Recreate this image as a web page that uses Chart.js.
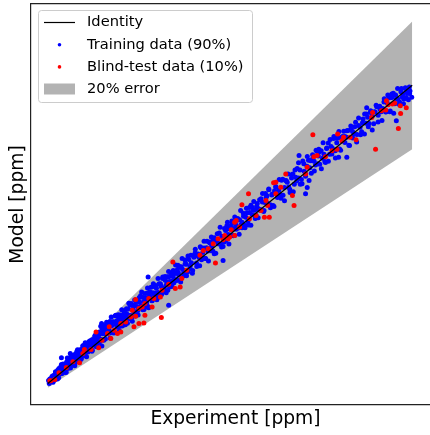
<!DOCTYPE html>
<html>
<head>
<meta charset="utf-8">
<script src="https://cdn.jsdelivr.net/npm/chart.js@4.4.1/dist/chart.umd.min.js"></script>
<style>
  html, body { margin: 0; padding: 0; background: #fff; overflow: hidden; }
  #wrap { width: 444px; height: 435px; }
</style>
</head>
<body>
<div id="wrap"><canvas id="parityChart" width="444" height="435"></canvas></div>
<script>
// experiment vs model, both in ppm
const identityRange = [26.25, 400];
const errorFraction = 0.2;

const trainingPoints = [
  [27.0,30],[27.7,26.2],[28.3,32],[29.0,31],[29.6,29.5],[30.3,34.5],[31.0,35.8],[31.6,28],[32.3,35],[32.9,37],
  [33.6,34.2],[34.3,40],[34.9,32.7],[35.6,39.7],[36.2,31.9],[36.9,42.4],[37.6,45.2],[38.2,39.5],[38.9,42.3],[39.5,38.7],
  [40.2,50.2],[40.9,39],[41.5,44.5],[42.2,49.4],[42.8,47.9],[43.5,44.4],[44.2,40.2],[44.8,50.6],[45.5,53.4],[46.1,45.6],
  [46.8,50.5],[47.5,56.8],[48.1,49.7],[48.8,55.3],[49.4,48.2],[50.1,61.5],[50.8,53.8],[51.4,51.6],[52.1,57.2],[52.7,61.3],
  [53.4,56.6],[54.1,51.7],[54.7,63.5],[55.4,61],[56.0,57.6],[56.7,68.7],[57.4,64.6],[58.0,57.2],[58.7,68.3],[59.3,61.7],
  [60.0,64.8],[60.7,57.5],[61.3,69.3],[62.0,73.2],[62.6,63.4],[63.3,69.7],[64.0,68],[64.6,77.4],[65.3,65.3],[65.9,71.5],
  [66.6,75.4],[67.3,65.7],[67.9,75.1],[68.6,71.8],[69.2,79.6],[69.9,71.5],[70.6,75.4],[71.2,80.8],[71.9,67.9],[72.5,80.5],
  [73.2,78.8],[73.9,76.3],[74.5,85.7],[75.2,75.2],[75.8,82.2],[76.5,80.5],[77.2,76.4],[77.8,86.6],[78.5,90.5],[79.1,82.3],
  [80.0,89],[80.9,81.9],[81.8,94.8],[82.7,88.7],[83.6,80.6],[84.5,92.5],[85.4,97.4],[86.3,88.3],[87.2,97.2],[88.1,91.1],
  [89.0,94],[89.9,103.9],[90.8,89.8],[91.7,98.7],[92.6,103.6],[93.5,89.5],[94.4,103.4],[95.3,111.3],[96.2,100.2],[97.1,105.1],
  [98.0,101],[98.9,108.9],[99.8,97.8],[100.7,105.7],[101.6,109.6],[102.5,98.5],[103.4,104.4],[104.3,117.3],[105.2,109.2],[106.1,105.1],
  [107.0,114],[107.9,101.9],[108.8,119.8],[109.7,111.7],[110.6,124.6],[111.5,111.5],[112.4,109.4],[113.3,119.3],[114.2,117.2],[115.1,124.1],
  [116.0,111],[116.9,128.9],[117.8,122.8],[118.7,117.7],[119.6,121.6],[120.5,128.5],[121.4,136.4],[122.3,123.3],[123.2,121.2],[124.1,134.1],
  [125.0,129],[125.9,121.9],[126.8,133.8],[127.7,127.7],[128.6,139.6],[129.5,122.5],[130.4,135.4],[131.3,140.3],[132.2,134.2],[133.1,130.1],
  [134.0,140],[134.9,147.9],[135.8,134.8],[136.7,139.7],[137.6,145.6],[138.5,133.5],[139.4,140.4],[140.3,151.3],[141.2,139.2],[142.1,149.1],
  [143.0,147],[143.9,157.9],[144.8,144.8],[145.7,141.7],[146.6,155.6],[147.5,149.5],[148.4,153.4],[149.3,143.3],[150.2,160.2],[151.1,154.1],
  [152.0,151],[152.9,164.9],[153.8,154.8],[154.7,160.7],[155.6,152.6],[156.5,164.5],[157.4,164.4],[158.3,156.3],[159.2,169.2],[160.1,165.1],
  [160.5,162.4],[161.8,156],[163.1,172.7],[164.4,169.6],[165.7,165.4],[167.0,181],[168.3,175.7],[169.6,166],[170.9,181.6],[172.2,173],
  [173.5,177.6],[174.8,167.9],[176.1,184.6],[177.4,190.3],[178.7,177.3],[180.0,186.3],[181.3,184.3],[182.6,197.7],[183.9,181.4],[185.2,190.4],
  [186.5,196.1],[187.8,183.1],[189.1,196.5],[190.4,192.3],[191.7,203.5],[193.0,192.7],[194.3,198.4],[195.6,206.3],[196.9,188.9],[198.2,206.7],
  [199.5,204.7],[200.8,201.6],[202.1,215],[203.4,200.9],[204.7,211],[206.0,209],[207.3,203.7],[208.6,218.2],[209.9,223.9],[211.2,213.1],
  [212.5,219.9],[213.8,212.4],[215.1,226.9],[216.4,220.5],[217.7,211.9],[219.0,225.3],[220.3,231],[221.6,221.3],[222.9,231.4],[224.2,225],
  [225.5,228.5],[226.8,239.7],[228.1,224.5],[229.4,234.6],[230.7,240.3],[232.0,225.1],[233.3,240.7],[234.6,249.7],[235.9,237.8],[237.2,243.5],
  [238.5,243.7],[239.8,237.3],[241.1,251.8],[242.4,245.4],[243.7,243.4],[245.0,257.9],[246.3,253.7],[247.6,241.8],[248.9,253],[250.2,259.8],
  [251.5,252.1],[253.0,269.2],[254.4,250.2],[255.9,262.5],[257.3,249.5],[258.8,267.8],[260.2,272.8],[261.7,263.5],[263.1,268.5],[264.6,262.8],
  [266.0,281],[267.5,262.1],[268.9,271.9],[270.4,280.6],[271.8,278.4],[273.3,272.7],[274.7,265.7],[276.2,284],[277.6,289],[279.1,276.1],
  [280.5,284.7],[282.0,295.8],[283.4,284],[284.9,293.9],[286.3,282.1],[287.8,305.2],[289.2,292.2],[290.7,288.9],[292.1,298.7],[293.6,306.2],
  [295.0,296.8],[296.5,289.9],[297.9,308.1],[299.4,304.8],[300.8,300.2],[302.3,317.3],[303.7,311.5],[305.2,301],[306.6,318],[308.1,308.7],
  [309.5,313.7],[311.0,303.2],[312.4,321.4],[313.9,327.7],[315.3,313.5],[316.8,323.4],[318.2,321.2],[319.7,335.9],[321.1,318.1],[322.6,328],
  [324.0,334.2],[325.5,320.1],[326.9,334.7],[328.4,330.2],[329.8,342.4],
  [331.0,328.4],[332.6,334.8],[334.1,343.5],[335.7,324.7],[337.2,344.2],[338.8,342.2],[340.3,338.9],[341.9,353.7],[343.4,338.4],[345.0,349.6],
  [346.5,347.5],[348.1,341.9],[349.6,357.8],[351.2,364.2],[352.7,352.5],[354.3,360.1],[355.8,352],[357.4,368],[358.9,361.1],[360.5,351.9],
  [362.0,366.6],[363.6,373],[365.1,362.5],[366.7,373.7],[368.2,366.8],[369.8,370.8],[371.3,383.1],[372.9,366.7],[374.4,377.8],[376.0,384.2],
  [377.5,367.7],[379.1,384.9],[380.6,390],[382.2,377],[383.7,383],[385.3,383],[386.8,376],[388.4,392],[389.9,385],[391.5,383],
  [393.0,397],[394.6,393],[396.1,382],[397.7,393],[399.5,385],
  [390.5,389],[397.3,389.8],[393.9,384.8],[378.6,384.8],
  [40.2,58.5],[49.3,64],[81.4,101.5],[129.1,159.7],[150.2,124.4],[206,180.6],[283.9,311.9],[290.6,264],[292.3,272],
  [353.3,372],[383.7,355.6],[304.2,320],[332.9,309.8],[324.5,309.8],
  // outer part of the cloud
  [33.0,30.6],[34.1,41.2],[35.2,35],[36.3,43],[37.4,33.6],[38.5,44.2],[39.6,47.6],[40.7,39.7],[41.8,50.7],[42.9,44.1],
  [44.0,50.6],[45.1,40.3],[46.2,58.2],[47.3,45.5],[48.4,54.4],[49.5,45.9],[50.6,60.8],[51.7,51.1],[52.8,61.8],[53.9,48.5],
  [55.0,62.2],[56.1,66.9],[57.2,54.2],[58.3,63.7],[59.4,55.2],[60.5,68.9],[61.6,61.6],[62.7,74.1],[63.8,61.4],[64.9,74.5],
  [66.0,60],[67.1,73.7],[68.2,78.4],[69.3,68.1],[70.4,78.2],[71.5,66.7],[72.6,81.6],[73.7,74.3],[74.8,86.8],[75.9,72.3],
  [77.0,72.8],[78.1,86.5],[79.2,78],
  [80.5,98.1],[81.7,73.2],[82.9,93.3],[84.1,99],[85.3,82.2],[86.5,103.2],[87.7,89.1],[88.9,101.1],[90.1,83.4],[91.3,109.8],
  [92.5,90.3],[93.7,103.2],[94.9,90],[96.1,111.9],[97.3,96.9],[98.5,112.5],[99.7,92.1],[100.9,112.2],[102.1,118.8],[103.3,99.3],
  [104.5,113.1],[105.7,99.9],[106.9,120],[108.1,108.6],[109.3,126.9],[110.5,107.4],[111.7,126.6],[112.9,104.4],[114.1,124.5],[115.3,131.1],
  [116.5,115.2],[117.7,129.9],[118.9,112.2],[120.1,134.1],[121.3,122.7],[122.5,141],[123.7,118.8],[124.9,119.1],[126.1,139.2],[127.3,126],
  [128.5,146.1],[129.7,121.2],[130.9,141.3],[132.1,147],[133.3,130.2],[134.5,151.2],[135.7,137.1],[136.9,149.1],[138.1,131.4],[139.3,157.8],
  [140.5,138.3],[141.7,151.2],[142.9,138],[144.1,159.9],[145.3,144.9],[146.5,160.5],[147.7,140.1],[148.9,160.2],[150.1,166.8],[151.3,147.3],
  [152.5,161.1],[153.7,147.9],[154.9,168],[156.1,156.6],[157.3,174.9],[158.5,155.4],[159.7,174.6],
  [161.0,173],[162.5,153.5],[164.0,183],[165.5,161.5],[167.0,176],[168.5,161.5],[170.0,186],[171.5,169.5],[173.0,187],[174.5,164.5],
  [176.0,187],[177.5,194.5],[179.0,173],[180.5,188.5],[182.0,174],[183.5,196.5],[185.0,184],[186.5,204.5],[188.0,183],[189.5,204.5],
  [191.0,180],[192.5,202.5],[194.0,210],[195.5,192.5],[197.0,209],[198.5,189.5],[200.0,214],[201.5,201.5],[203.0,222],[204.5,197.5],
  [206.0,198],[207.5,220.5],[209.0,206],[210.5,228.5],[212.0,201],[213.5,223.5],[215.0,230],[216.5,211.5],[218.0,235],[219.5,219.5],
  [221.0,233],[222.5,213.5],[224.0,243],[225.5,221.5],[227.0,236],[228.5,221.5],[230.0,246],[231.5,229.5],[233.0,247],[234.5,224.5],
  [236.0,247],[237.5,254.5],[239.0,233],[240.5,248.5],[242.0,234],[243.5,256.5],[245.0,244],[246.5,264.5],[248.0,243],[249.5,264.5],
  [251.0,261.7],[252.8,270.1],[254.6,246.6],[256.4,263.8],[258.2,248],[260.0,272.9],[261.8,259.3],[263.6,282],[265.4,258.5],[267.2,282.3],
  [269.0,255.5],[270.8,280.4],[272.6,288.8],[274.4,269.7],[276.2,288],[278.0,266.7],[279.8,293.8],[281.6,280.2],[283.4,302.9],[285.2,276.1],
  [287.0,276.8],[288.8,301.7],[290.6,285.9],[292.4,310.8],[294.2,280.7],[296.0,305.6],[297.8,312.9],[299.6,292.7],[301.4,318.7],[303.2,301.8],
  [305.0,316.8],[306.8,295.5],[308.6,328.1],[310.4,304.6],[312.2,320.7],[314.0,304.9],[315.8,332],[317.6,314],[319.4,333.4],[321.2,308.8],
  [323.0,333.7],[324.8,342.1],[326.6,318.6],[328.4,335.8],
  [331,336],[333,343],[335,325],[337,349],[339,334],[341,348],[343,329],[345,359],[347,338],[349,353],
  [351,339],[353,364],[355,348],[357,366],[359,344],[361,367],[363,375],[365,354],[367,370],[369,356],
  [371,379],[373,367],[375,388],[377,367],[379,389],[381,365],[383,388],[385,396],[387,379],[389,396],
  [391,377],[393,396],[395,390],[397,398]
];

const blindTestPoints = [
  [28.3,29.8],[29.3,29.8],[33.4,31.5],[37.7,39.8],[45.2,46.5],[51.9,53.5],[58.8,52.3],[62.1,64],[63.8,69],[70.6,69],
  [75.7,91],[78.4,71],[81.8,80.6],[87.5,89],[89.2,97.3],[90.9,82.8],[94.3,93.1],[97.7,89],[101.1,91],[101.1,101.5],
  [106.2,103.5],[111.3,109.8],[114.6,97.3],[112.9,118.1],[116.3,131.5],[119.7,120.3],[125.8,126.5],[119.7,101.5],[124.8,102.3],[125.8,111.9],
  [116.3,110.6],[142.7,109],[154.5,178.5],[198.2,177.3],[182.3,186.9],[185.7,193.1],[190.8,195.3],[195.9,201.5],[200.9,207.8],[206,206.5],
  [211.1,207.8],[217.9,211.9],[217.9,228.5],[168.7,168.1],[163.7,157.8],[162,147.3],[157,145.3],[150.2,150.6],[143.4,143.1],[141.7,134.8],
  [135,132.8],[129.8,132.8],[123,122.3],[133.2,122.3],
  [232.1,264],[225.3,250.3],[270.3,289],[278.8,249.4],[277.1,261.9],[299.1,310.6],[302.5,311.9],[292.3,297.3],[290.6,289],[253.4,234.8],
  [248.4,234.8],[239.8,236.9],[257.8,277.8],[260.1,278.5],[265.2,272.3],[260.1,264],[250,255.6],[251.7,249.4],[244.9,243.1],[233.1,232.8],
  [219.5,230.6],[223,222.3],[214.4,219],[207.7,211.9],[212.8,209.8],
  [298.1,338],[362.4,319.8],[385.8,346],[393.9,372],[388.1,364.8],[359.4,366],[323.5,339],[342.4,331.9],[322.8,320],[311,310.6],
  [373.6,380.6],[375.3,375.6],[379.7,376.5],[382,377.8],[387.8,374.4],[368.5,368],[372.9,369],[317.7,318],[327.9,330.6],[329.6,334.8],
  [336.3,334.8],[358.4,359.8]
];

const toXY = pts => pts.map(p => ({ x: p[0], y: p[1] }));

const bandColor = '#b3b3b3';

// legend drawn inside the axes, upper left, like the original
const boxLegend = {
  id: 'boxLegend',
  afterDraw(chart) {
    const ctx = chart.ctx;
    const ds = chart.data.datasets;
    ctx.save();
    ctx.beginPath();
    ctx.roundRect(38.5, 10.5, 214, 92, 3);
    ctx.fillStyle = 'rgba(255,255,255,0.8)';
    ctx.fill();
    ctx.strokeStyle = '#cccccc';
    ctx.lineWidth = 1;
    ctx.stroke();

    const rows = [22.5, 44.7, 66.9, 89.1];
    // identity handle
    ctx.beginPath();
    ctx.moveTo(44, rows[0]);
    ctx.lineTo(75, rows[0]);
    ctx.strokeStyle = '#000';
    ctx.lineWidth = 1.2;
    ctx.stroke();
    // point handles
    [[1, '#0000ff'], [2, '#ff0000']].forEach(([i, c]) => {
      ctx.beginPath();
      ctx.arc(59.5, rows[i], 1.8, 0, Math.PI * 2);
      ctx.fillStyle = c;
      ctx.fill();
    });
    // band handle
    ctx.fillStyle = bandColor;
    ctx.fillRect(44, 83.5, 31, 11);

    ctx.fillStyle = '#000';
    ctx.font = '14.67px "DejaVu Sans"';
    ctx.textBaseline = 'middle';
    ctx.textAlign = 'left';
    const labels = [ds[0].label, ds[1].label, ds[2].label, ds[3].label];
    labels.forEach((t, i) => ctx.fillText(t, 87, rows[i]));
    ctx.restore();
  }
};

Chart.defaults.font.family = '"DejaVu Sans"';
Chart.defaults.color = '#000';

const ctx = document.getElementById('parityChart').getContext('2d');
new Chart(ctx, {
  type: 'scatter',
  data: {
    datasets: [
      {
        label: 'Identity',
        type: 'line',
        data: identityRange.map(v => ({ x: v, y: v })),
        borderColor: '#000',
        borderWidth: 1.2,
        pointRadius: 0,
        fill: false,
        order: 0
      },
      {
        label: 'Training data (90%)',
        data: toXY(trainingPoints),
        backgroundColor: '#0000ff',
        borderWidth: 0,
        pointRadius: 2.5,
        order: 2
      },
      {
        label: 'Blind-test data (10%)',
        data: toXY(blindTestPoints),
        backgroundColor: '#ff0000',
        borderWidth: 0,
        pointRadius: 2.5,
        order: 1
      },
      {
        label: '20% error',
        type: 'line',
        data: identityRange.map(v => ({ x: v, y: v * (1 + errorFraction) })),
        borderWidth: 0,
        pointRadius: 0,
        backgroundColor: bandColor,
        fill: '+1',
        order: 3
      },
      {
        label: 'lower',
        type: 'line',
        data: identityRange.map(v => ({ x: v, y: v * (1 - errorFraction) })),
        borderWidth: 0,
        pointRadius: 0,
        fill: false,
        order: 4
      }
    ]
  },
  options: {
    responsive: false,
    animation: false,
    layout: { padding: { top: 3, left: 0, right: 0, bottom: 0 } },
    plugins: {
      legend: { display: false },
      tooltip: { enabled: false }
    },
    scales: {
      x: {
        type: 'linear',
        position: 'bottom',
        min: 9,
        max: 428.5,
        ticks: { display: false },
        grid: { display: false, drawTicks: false },
        border: { display: true, color: '#222', width: 1.2 },
        title: {
          display: true,
          text: 'Experiment [ppm]',
          font: { size: 18.67 },
          padding: { top: 2.8, bottom: 4.8 }
        }
      },
      xTop: {
        type: 'linear',
        position: 'top',
        min: 0,
        max: 1,
        ticks: { display: false },
        grid: { display: false, drawTicks: false },
        border: { display: true, color: '#222', width: 1.2 }
      },
      y: {
        type: 'linear',
        min: -0.6,
        max: 501.9,
        ticks: { display: false },
        grid: { display: false, drawTicks: false },
        border: { display: true, color: '#222', width: 1.2 },
        title: {
          display: true,
          text: 'Model [ppm]',
          font: { size: 18.67 },
          padding: { top: 7, bottom: 1.6 }
        }
      }
    }
  },
  plugins: [boxLegend]
});
</script>
</body>
</html>
